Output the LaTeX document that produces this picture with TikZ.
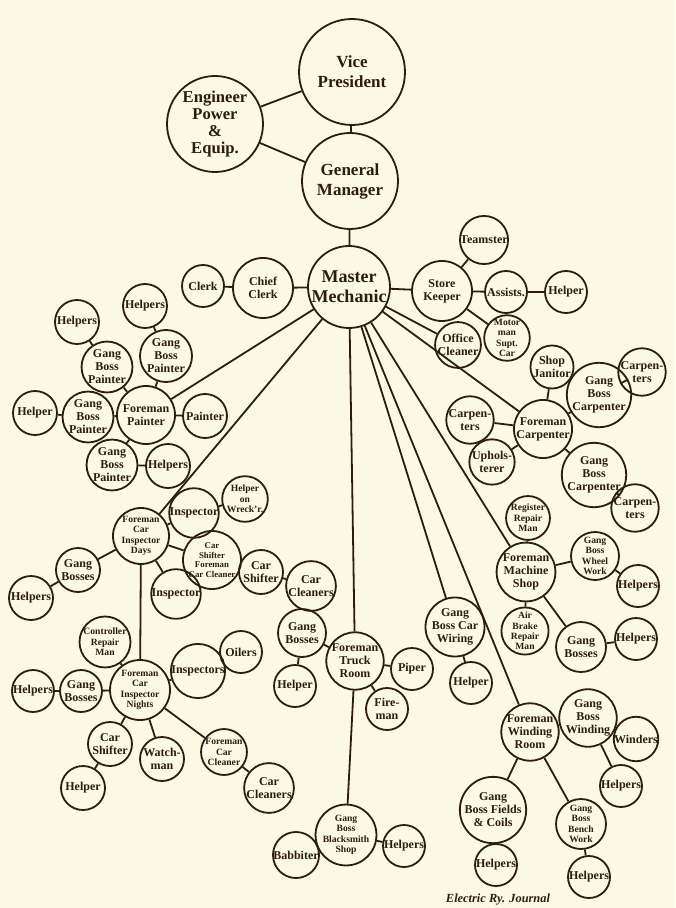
\documentclass[tikz,border=0pt]{standalone}
\usepackage{fontspec}
\setmainfont{Liberation Serif}
\definecolor{paper}{RGB}{251,249,228}
\definecolor{ink}{RGB}{45,28,18}
\tikzset{
  member/.style={shape=circle,draw=ink,line width=0.9pt,inner sep=0pt,align=center,
    minimum size=#1,font=\fontsize{6}{6.5}\selectfont\bfseries},
  member/.default=21pt,
  chief/.style={member=#1,font=\fontsize{8.5}{10}\selectfont\bfseries},
  fine/.style={font=\fontsize{4.8}{5.2}\selectfont\bfseries},
  tie/.style={line width=0.9pt},
}
\begin{document}
\begin{tikzpicture}[x=0.5pt,y=-0.5pt,color=ink]
    \path[use as bounding box,fill=paper] (0,0) rectangle (675,908);

   \node[chief=53pt] (vp) at (352,72) {Vice\\President};
    \node[chief=48pt,font=\fontsize{8.3}{8.6}\selectfont\bfseries] (eng) at (215,124) {Engineer\\Power\\\&\\Equip.};
    \node[chief=48pt] (gm) at (350,181) {General\\Manager};
    \node[chief=41pt,font=\fontsize{9}{10}\selectfont\bfseries] (mm) at (349,287) {Master\\Mechanic};

    \node[member=30pt] (cc) at (263,288) {Chief\\Clerk};
    \node[member] (clerk) at (203,286) {Clerk};
    \node[member=30pt] (sk) at (442,291) {Store\\Keeper};
    \node[member] (team) at (484,240) {Teamster};
    \node[member] (asst) at (506,292) {Assists.};
    \node[member] (skhelp) at (566,292) {Helper};
    \node[member] (office) at (458,345) {Office\\Cleaner};
    \node[member,fine] (motor) at (507,338) {Motor\\man\\Supt.\\Car};

    \node[member=29pt] (fcarp) at (543,429) {Foreman\\Carpenter};
    \node[member=20pt] (janitor) at (552,367) {Shop\\Janitor};
    \node[member=23pt] (gbca) at (599,395) {Gang\\Boss\\Carpenter};
    \node[member] (carpa) at (642,372) {Carpen-\\ters};
    \node[member=20pt] (carpb) at (470,420) {Carpen-\\ters};
    \node[member] (uphol) at (492,462) {Uphols-\\terer};
    \node[member=22pt] (gbcb) at (594,475) {Gang\\Boss\\Carpenter};
    \node[member] (carpc) at (635,508) {Carpen-\\ters};

    \node[member=29pt] (fms) at (526,572) {Foreman\\Machine\\Shop};
    \node[member,fine] (reg) at (528,518) {Register\\Repair\\Man};
    \node[member=24pt,fine] (gbww) at (595,556) {Gang\\Boss\\Wheel\\Work};
    \node[member] (wwhelp) at (638,586) {Helpers};
    \node[member=22pt,fine] (air) at (525,631) {Air\\Brake\\Repair\\Man};
    \node[member=25pt] (msgb) at (581,647) {Gang\\Bosses};
    \node[member] (msgbhelp) at (636,639) {Helpers};

    \node[member=25pt] (gbcw) at (455,627) {Gang\\Boss Car\\Wiring};
    \node[member] (wirehelp) at (471,683) {Helper};

    \node[member=28pt] (fwr) at (530,732) {Foreman\\Winding\\Room};
    \node[member=25pt] (gbw) at (588,718) {Gang\\Boss\\Winding};
    \node[member] (winders) at (636,739) {Winders};
    \node[member] (gbwhelp) at (621,786) {Helpers};
    \node[member=26pt] (gbfc) at (493,810) {Gang\\Boss Fields\\\& Coils};
    \node[member] (fchelp) at (496,865) {Helpers};
    \node[member=25pt,fine] (gbbw) at (581,824) {Gang\\Boss\\Bench\\Work};
    \node[member] (bwhelp) at (589,877) {Helpers};

    \node[member=27pt] (ftr) at (355,661) {Foreman\\Truck\\Room};
    \node[member] (piper) at (412,669) {Piper};
    \node[member] (fire) at (387,709) {Fire-\\man};
    \node[member=24pt] (trgb) at (302,633) {Gang\\Bosses};
    \node[member] (trhelp) at (295,686) {Helper};
    \node[member=26pt,fine] (gbbs) at (346,835) {Gang\\Boss\\Blacksmith\\Shop};
    \node[member=22pt] (babb) at (296,855) {Babbiter};
    \node[member] (bshelp) at (404,846) {Helpers};

    \node[member=29pt] (fp) at (146,415) {Foreman\\Painter};
    \node[member=22pt] (paint) at (205,416) {Painter};
    \node[member=26pt] (gbpa) at (166,356) {Gang\\Boss\\Painter};
    \node[member=22pt] (hpa) at (145,306) {Helpers};
    \node[member=25pt] (gbpb) at (107,367) {Gang\\Boss\\Painter};
    \node[member=22pt] (hpb) at (77,322) {Helpers};
    \node[member=25pt] (gbpc) at (88,417) {Gang\\Boss\\Painter};
    \node[member=22pt] (hpc) at (35,413) {Helper};
    \node[member=25pt] (gbpd) at (112,465) {Gang\\Boss\\Painter};
    \node[member=22pt] (hpd) at (168,466) {Helpers};

    \node[member=28pt,fine] (fcid) at (141,536) {Foreman\\Car\\Inspector\\Days};
    \node[member=22pt] (insa) at (194,513) {Inspector};
    \node[member=22pt,fine] (wreck) at (245,499) {Helper\\on\\Wreck'r.};
    \node[member=22pt,font=\fontsize{4.4}{4.8}\selectfont\bfseries] (cscc) at (212,560) {Car\\Shifter\\Foreman\\Car Cleaner};
    \node[member=22pt] (shift) at (261,572) {Car\\Shifter};
    \node[member=22pt] (cleana) at (311,586) {Car\\Cleaners};
    \node[member=23pt] (insb) at (176,594) {Inspector};
    \node[member=22pt] (dgb) at (78,570) {Gang\\Bosses};
    \node[member=22pt] (dhelp) at (31,598) {Helpers};

    \node[member=30pt,fine] (fcin) at (140,690) {Foreman\\Car\\Inspector\\Nights};
    \node[member,fine] (ctrl) at (105,642) {Controller\\Repair\\Man};
    \node[member=22pt] (insps) at (198,671) {Inspectors};
    \node[member] (oilers) at (241,652) {Oilers};
    \node[member] (ngb) at (81,691) {Gang\\Bosses};
    \node[member] (nhelp) at (33,691) {Helpers};
    \node[member=22pt] (nshift) at (110,744) {Car\\Shifter};
    \node[member=22pt] (nhelper) at (83,788) {Helper};
    \node[member=22pt] (watch) at (162,759) {Watch-\\man};
    \node[member=22pt,fine] (fcc) at (224,752) {Foreman\\Car\\Cleaner};
    \node[member=22pt] (cleanb) at (269,788) {Car\\Cleaners};

    \node[font=\fontsize{6.2}{6.5}\selectfont\bfseries\itshape] (journal) at (498,900) {Electric Ry. Journal};

    \path [tie] (vp) edge (gm);
    \path [tie] (vp) edge (eng);
    \path [tie] (eng) edge (gm);
    \path [tie] (gm) edge (mm);
    \path [tie] (mm) edge (cc);
    \path [tie] (cc) edge (clerk);
    \path [tie] (mm) edge (sk);
    \path [tie] (sk) edge (team);
    \path [tie] (sk) edge (asst);
    \path [tie] (asst) edge (skhelp);
    \path [tie] (sk) edge (motor);
    \path [tie] (mm) edge (office);

    \path [tie] (mm) edge (fcarp);
    \path [tie] (fcarp) edge (janitor);
    \path [tie] (fcarp) edge (gbca);
    \path [tie] (gbca) edge (carpa);
    \path [tie] (fcarp) edge (carpb);
    \path [tie] (fcarp) edge (uphol);
    \path [tie] (fcarp) edge (gbcb);
    \path [tie] (gbcb) edge (carpc);

    \path [tie] (mm) edge (fms);
    \path [tie] (fms) edge (reg);
    \path [tie] (fms) edge (gbww);
    \path [tie] (gbww) edge (wwhelp);
    \path [tie] (fms) edge (air);
    \path [tie] (fms) edge (msgb);
    \path [tie] (msgb) edge (msgbhelp);

    \path [tie] (mm) edge (gbcw);
    \path [tie] (gbcw) edge (wirehelp);

    \path [tie] (mm) edge (fwr);
    \path [tie] (fwr) edge (gbw);
    \path [tie] (gbw) edge (winders);
    \path [tie] (gbw) edge (gbwhelp);
    \path [tie] (fwr) edge (gbfc);
    \path [tie] (gbfc) edge (fchelp);
    \path [tie] (fwr) edge (gbbw);
    \path [tie] (gbbw) edge (bwhelp);

    \path [tie] (mm) edge (ftr);
    \path [tie] (ftr) edge (piper);
    \path [tie] (ftr) edge (fire);
    \path [tie] (ftr) edge (trgb);
    \path [tie] (trgb) edge (trhelp);
    \path [tie] (ftr) edge (gbbs);
    \path [tie] (gbbs) edge (babb);
    \path [tie] (gbbs) edge (bshelp);

    \path [tie] (mm) edge (fp);
    \path [tie] (fp) edge (paint);
    \path [tie] (fp) edge (gbpa);
    \path [tie] (gbpa) edge (hpa);
    \path [tie] (fp) edge (gbpb);
    \path [tie] (gbpb) edge (hpb);
    \path [tie] (fp) edge (gbpc);
    \path [tie] (gbpc) edge (hpc);
    \path [tie] (fp) edge (gbpd);
    \path [tie] (gbpd) edge (hpd);

    \path [tie] (mm) edge (fcid);
    \path [tie] (fcid) edge (insa);
    \path [tie] (insa) edge (wreck);
    \path [tie] (fcid) edge (cscc);
    \path [tie] (cscc) edge (shift);
    \path [tie] (shift) edge (cleana);
    \path [tie] (fcid) edge (insb);
    \path [tie] (fcid) edge (dgb);
    \path [tie] (dgb) edge (dhelp);
    \path [tie] (fcid) edge (fcin);

    \path [tie] (fcin) edge (ctrl);
    \path [tie] (fcin) edge (insps);
    \path [tie] (insps) edge (oilers);
    \path [tie] (fcin) edge (ngb);
    \path [tie] (ngb) edge (nhelp);
    \path [tie] (fcin) edge (nshift);
    \path [tie] (nshift) edge (nhelper);
    \path [tie] (fcin) edge (watch);
    \path [tie] (fcin) edge (fcc);
    \path [tie] (fcc) edge (cleanb);
\end{tikzpicture}
\end{document}
